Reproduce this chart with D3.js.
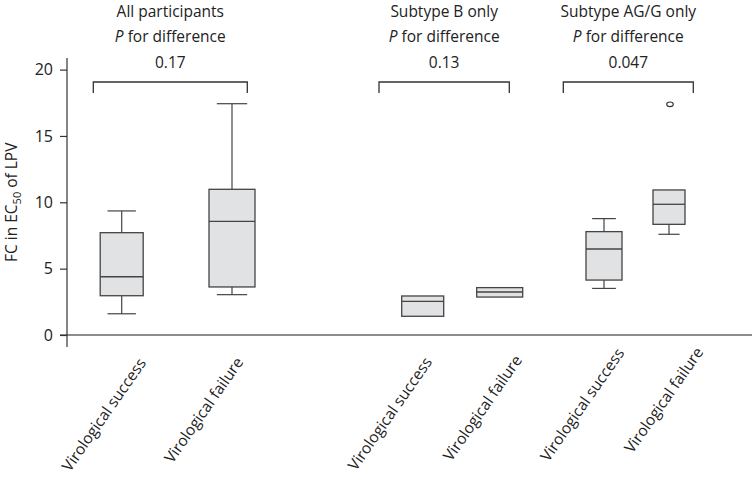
<!DOCTYPE html>
<html>
<head>
<meta charset="utf-8">
<script src="https://cdn.jsdelivr.net/npm/d3@7"></script>
<style>
  html, body { margin: 0; padding: 0; background: #fff; }
  svg { display: block; }
  text { font-family: "Open Sans", "Noto Sans", sans-serif; fill: #222; }
</style>
</head>
<body>
<svg id="chart" width="752" height="485"></svg>
<script>
// ---------------- data ----------------
const categories = ["Virological success", "Virological failure",
                    "Virological success", "Virological failure",
                    "Virological success", "Virological failure"];
const boxIds = ["all-s", "all-f", "b-s", "b-f", "ag-s", "ag-f"];
const groupTitles = ["All participants", "Subtype B only", "Subtype AG/G only"];
const pValues = ["0.17", "0.13", "0.047"];
const whiskerLow  = [1.6, 3.04, 1.41, 2.86, 3.51, 7.59];
const q1          = [2.96, 3.62, 1.41, 2.86, 4.14, 8.34];
const medians     = [4.39, 8.57, 2.54, 3.24, 6.48, 9.85];
const q3          = [7.71, 10.98, 2.94, 3.57, 7.79, 10.93];
const whiskerHigh = [9.35, 17.43, 2.94, 3.57, 8.77, 10.93];
const outlierBox = ["ag-f"];
const outlierValue = [17.38];
const yTicks = [0, 5, 10, 15, 20];

// ---------------- layout ----------------
const svg = d3.select("#chart");
const y = d3.scaleLinear().domain([0, 20]).range([335, 69.6]);
const x = d3.scaleOrdinal().domain(boxIds).range([121.7, 232, 422.7, 499.7, 604, 669]);
const boxW = d3.scaleOrdinal().domain(boxIds).range([43, 46, 42, 46, 36, 32]);
const labelDx = d3.scaleOrdinal().domain(boxIds).range([25, 12, 10, 23, 21, 35]);
const labelY = d3.scaleOrdinal().domain(boxIds).range([363, 362, 362, 360, 353, 352]);
const groupIdx = [0, 1, 2];
const bracketL = d3.scaleOrdinal().domain(groupIdx).range([93.3, 379, 563.3]);
const bracketR = d3.scaleOrdinal().domain(groupIdx).range([247.3, 509.3, 693.3]);
const axisX = 67;

const boxes = boxIds.map((id, i) => ({
  id, label: categories[i], lo: whiskerLow[i], q1: q1[i], med: medians[i], q3: q3[i], hi: whiskerHigh[i]
}));

// baseline at zero
svg.append("line")
  .attr("x1", 60).attr("x2", 752)
  .attr("y1", y(0)).attr("y2", y(0))
  .attr("stroke", "#8c8c8c").attr("stroke-width", 2);

// y axis
const yAxis = d3.axisLeft(y).tickValues(yTicks).tickSize(7).tickPadding(7).tickFormat(d3.format("d"));
const gy = svg.append("g").attr("transform", `translate(${axisX},0)`).call(yAxis);
gy.select(".domain").remove();
gy.append("line").attr("x1", 0).attr("x2", 0).attr("y1", 58).attr("y2", 347)
  .attr("stroke", "#333").attr("stroke-width", 1.2);
gy.selectAll(".tick line").attr("stroke", "#333").attr("stroke-width", 1.2);
gy.selectAll(".tick text").attr("font-size", 16).attr("fill", "#222")
  .style("font-family", '"Open Sans", "Noto Sans", sans-serif');

// y label
const yl = svg.append("text")
  .attr("transform", `translate(17,${y(10)}) rotate(-90)`)
  .attr("text-anchor", "middle")
  .attr("font-size", 15.5);
yl.append("tspan").text("FC in EC");
yl.append("tspan").attr("font-size", 11).attr("dy", 4).text("50");
yl.append("tspan").attr("dy", -4).text(" of LPV");

// group titles, p-values, brackets
groupIdx.forEach(g => {
  const cx = (bracketL(g) + bracketR(g)) / 2;
  svg.append("text").attr("x", cx).attr("y", 17).attr("text-anchor", "middle")
    .attr("font-size", 15.5).text(groupTitles[g]);
  const pt = svg.append("text").attr("x", cx).attr("y", 42).attr("text-anchor", "middle")
    .attr("font-size", 15.5);
  pt.append("tspan").attr("font-style", "italic").text("P");
  pt.append("tspan").text(" for difference");
  svg.append("text").attr("x", cx).attr("y", 68).attr("text-anchor", "middle")
    .attr("font-size", 15.5).text(pValues[g]);
  svg.append("path")
    .attr("d", `M${bracketL(g)},93 V82 H${bracketR(g)} V93`)
    .attr("fill", "none").attr("stroke", "#333").attr("stroke-width", 1.3);
});

// boxes
const bg = svg.append("g").selectAll("g").data(boxes).join("g");
// whiskers
bg.filter(d => d.hi > d.q3).append("line")
  .attr("x1", d => x(d.id)).attr("x2", d => x(d.id))
  .attr("y1", d => y(d.q3)).attr("y2", d => y(d.hi))
  .attr("stroke", "#444").attr("stroke-width", 1.2);
bg.filter(d => d.hi > d.q3).append("line")
  .attr("x1", d => x(d.id) - boxW(d.id) * 0.33).attr("x2", d => x(d.id) + boxW(d.id) * 0.33)
  .attr("y1", d => y(d.hi)).attr("y2", d => y(d.hi))
  .attr("stroke", "#444").attr("stroke-width", 1.2);
bg.filter(d => d.lo < d.q1).append("line")
  .attr("x1", d => x(d.id)).attr("x2", d => x(d.id))
  .attr("y1", d => y(d.q1)).attr("y2", d => y(d.lo))
  .attr("stroke", "#444").attr("stroke-width", 1.2);
bg.filter(d => d.lo < d.q1).append("line")
  .attr("x1", d => x(d.id) - boxW(d.id) * 0.33).attr("x2", d => x(d.id) + boxW(d.id) * 0.33)
  .attr("y1", d => y(d.lo)).attr("y2", d => y(d.lo))
  .attr("stroke", "#444").attr("stroke-width", 1.2);
// box
bg.append("rect")
  .attr("x", d => x(d.id) - boxW(d.id) / 2).attr("width", d => boxW(d.id))
  .attr("y", d => y(d.q3)).attr("height", d => y(d.q1) - y(d.q3))
  .attr("fill", "#e1e2e4").attr("stroke", "#444").attr("stroke-width", 1.3);
bg.append("line")
  .attr("x1", d => x(d.id) - boxW(d.id) / 2).attr("x2", d => x(d.id) + boxW(d.id) / 2)
  .attr("y1", d => y(d.med)).attr("y2", d => y(d.med))
  .attr("stroke", "#444").attr("stroke-width", 1.3);

// outliers
svg.append("g").selectAll("ellipse").data(outlierBox.map((b, i) => ({ b, v: outlierValue[i] })))
  .join("ellipse")
  .attr("cx", d => x(d.b) + 1).attr("cy", d => y(d.v))
  .attr("rx", 3.3).attr("ry", 2.3)
  .attr("fill", "none").attr("stroke", "#333").attr("stroke-width", 1.1);

// category labels
svg.append("g").selectAll("text").data(boxes).join("text")
  .attr("transform", d => `translate(${x(d.id) + labelDx(d.id)},${labelY(d.id)}) rotate(-55)`)
  .attr("text-anchor", "end")
  .attr("font-size", 15.5)
  .text(d => d.label);
</script>
</body>
</html>
